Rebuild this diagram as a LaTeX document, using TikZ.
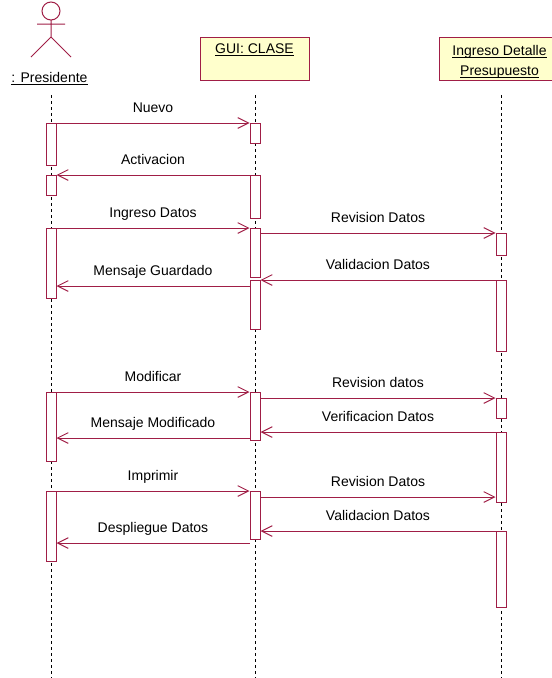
\documentclass[tikz,border=0pt]{standalone}
\usepackage{fontspec}
\setmainfont{Liberation Sans}
\usetikzlibrary{arrows.meta}
\definecolor{rosered}{RGB}{160,30,70}
\definecolor{noteyellow}{RGB}{255,255,204}
\newcommand{\ulname}[1]{\underline{\raisebox{0pt}[\height][0pt]{#1}}}

\begin{document}
\begin{tikzpicture}[x=0.75pt,y=-0.75pt,
  font=\fontsize{10.5}{15}\selectfont,
  life/.style={dash pattern=on 2.25pt off 2.25pt,line width=0.75pt},
  obj/.style={draw=rosered,fill=noteyellow,line width=0.75pt,minimum width=#1,minimum height=32.25pt,inner sep=0pt},
  bar/.style={draw=rosered,fill=white,line width=0.75pt,minimum width=7.5pt,inner sep=0pt,anchor=north},
  msg/.style={draw=rosered,line width=0.75pt,-{Straight Barb[length=8pt,width=8pt]}},
  lbl/.style={midway,anchor=base,yshift=8pt}]
\useasboundingbox (0,0) rectangle (552,678);
\clip (0,0) rectangle (552,678);

% actor
\draw[rosered,line width=0.75pt] (51,11) circle[radius=6.75pt]
  (37,24) -- (65,24) (51,20) -- (51,37) (31,57) -- (51,37) -- (71,57);
\node[anchor=base] (pres) at (49.5,82) {\ulname{: Presidente}};

% objects
\node[obj=81.75pt] (gui) at (254.5,58.5) {};
\node[anchor=base] (guiname) at (gui.center |- 0,53.5) {\ulname{GUI: CLASE}};
\node[obj=90.75pt] (idp) at (499.5,58.5) {};
\node[anchor=north,align=center,inner sep=0pt] (idpname) at (idp.center |- 0,45)
  {\ulname{Ingreso Detalle}\\\ulname{Presupuesto}};

% lifelines
\coordinate (P) at (51,95);
\coordinate (G) at (255,95);
\coordinate (I) at (501,95);
\foreach \l in {P,G,I} \draw[life] (\l) -- (\l |- 0,678);

% activations
\foreach \n/\l/\a/\b in {p1/P/123/165,p2/P/175/195,p3/P/228/298,p4/P/392/461,p5/P/491/561,
  g1/G/123/143,g2/G/175/218,g3/G/228/277,g4/G/280/329,g5/G/392/440,g6/G/491/539,
  i1/I/233/255,i2/I/280/351,i3/I/398/418,i4/I/432/502,i5/I/531/607}
  \node[bar,minimum height={(\b-\a)*0.75pt}] (\n) at (\l |- 0,\a) {};

% messages
\foreach \src/\dst/\y/\txt in {p1.east/g1.west/123/Nuevo,
  g2.west/p2.east/175/Activacion,
  p3.east/g3.west/228/Ingreso Datos,
  g3.east/i1.west/233/Revision Datos,
  i2.west/g4.east/280/Validacion Datos,
  g4.west/p3.east/286/Mensaje Guardado,
  p4.east/g5.west/392/Modificar,
  g5.east/i3.west/398/Revision datos,
  i4.west/g5.east/432/Verificacion Datos,
  g5.west/p4.east/438/Mensaje Modificado,
  p5.east/g6.west/491/Imprimir,
  g6.east/i4.west/497/Revision Datos,
  i5.west/g6.east/531/Validacion Datos,
  g6.west/p5.east/543/Despliegue Datos}
  \draw[msg] (\src |- 0,\y) -- (\dst |- 0,\y) node[lbl] {\txt};

\end{tikzpicture}
\end{document}
